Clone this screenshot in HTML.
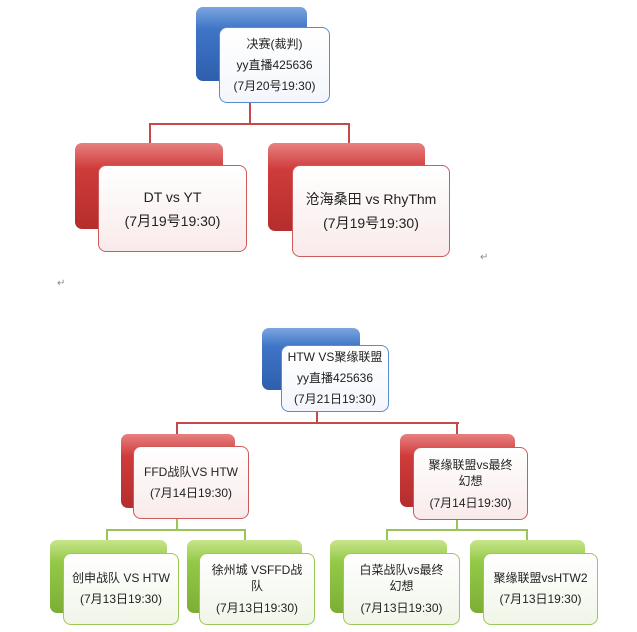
<!DOCTYPE html>
<html><head><meta charset="utf-8"><style>
body{margin:0;width:637px;height:632px;background:#fff;position:relative;overflow:hidden;font-family:"Liberation Sans","Noto Sans CJK SC",sans-serif;color:#222}
.b{position:absolute;border-radius:7px}
.blue{background:linear-gradient(#7aa6e0,#3f74c6 30%,#2e5fae);}
.red{background:linear-gradient(#e88080,#cf3b3b 30%,#b52d2d);}
.green{background:linear-gradient(#c7e58a,#94c947 30%,#7cae35);}
.w{position:absolute;border-radius:8px;background:rgba(255,255,255,0.93);display:flex;flex-direction:column;justify-content:center;align-items:center;text-align:center;font-size:12px;line-height:21px;box-sizing:border-box}
.wb{border:1px solid #5a8bd0;background:linear-gradient(#fff,#f3f6fb)}
.wr{border:1px solid #cf5a5a;background:linear-gradient(#fff,#f9eaea)}
.wg{border:1px solid #9cc85a;background:linear-gradient(#fff,#f0f5e8)}
.l{position:absolute}
.lr{background:#c24a4a}.lg{background:#99c45a}
</style></head><body>
<!-- tree 1 -->
<div class="l lr" style="left:249px;top:100px;width:2px;height:25px"></div>
<div class="l lr" style="left:149px;top:123px;width:201px;height:2px"></div>
<div class="l lr" style="left:149px;top:123px;width:2px;height:22px"></div>
<div class="l lr" style="left:348px;top:123px;width:2px;height:22px"></div>
<div class="b blue" style="left:196px;top:7px;width:111px;height:74px"></div>
<div class="w wb" style="left:219px;top:27px;width:111px;height:76px"><div>决赛(裁判)</div><div>yy直播425636</div><div>(7月20号19:30)</div></div>
<div class="b red" style="left:75px;top:143px;width:148px;height:86px"></div>
<div class="w wr" style="left:98px;top:165px;width:149px;height:87px;font-size:14px;line-height:24px"><div>DT vs YT</div><div>(7月19号19:30)</div></div>
<div class="b red" style="left:268px;top:143px;width:157px;height:88px"></div>
<div class="w wr" style="left:292px;top:165px;width:158px;height:92px;font-size:14px;line-height:24px"><div>沧海桑田 vs RhyThm</div><div>(7月19号19:30)</div></div>
<div class="l" style="left:480px;top:252px;font-size:10px;color:#888">↵</div>
<div class="l" style="left:57px;top:278px;font-size:10px;color:#888">↵</div>
<!-- tree 2 -->
<div class="l lr" style="left:316px;top:410px;width:2px;height:14px"></div>
<div class="l lr" style="left:176px;top:422px;width:283px;height:2px"></div>
<div class="l lr" style="left:176px;top:422px;width:2px;height:14px"></div>
<div class="l lr" style="left:456px;top:422px;width:2px;height:14px"></div>
<div class="l lg" style="left:176px;top:518px;width:2px;height:13px"></div>
<div class="l lg" style="left:106px;top:529px;width:140px;height:2px"></div>
<div class="l lg" style="left:106px;top:529px;width:2px;height:12px"></div>
<div class="l lg" style="left:244px;top:529px;width:2px;height:12px"></div>
<div class="l lg" style="left:456px;top:518px;width:2px;height:13px"></div>
<div class="l lg" style="left:386px;top:529px;width:142px;height:2px"></div>
<div class="l lg" style="left:386px;top:529px;width:2px;height:12px"></div>
<div class="l lg" style="left:526px;top:529px;width:2px;height:12px"></div>
<div class="b blue" style="left:262px;top:328px;width:98px;height:62px"></div>
<div class="w wb" style="left:281px;top:345px;width:108px;height:67px"><div>HTW VS聚缘联盟</div><div>yy直播425636</div><div>(7月21日19:30)</div></div>
<div class="b red" style="left:121px;top:434px;width:114px;height:74px"></div>
<div class="w wr" style="left:133px;top:446px;width:116px;height:73px"><div>FFD战队VS  HTW</div><div>(7月14日19:30)</div></div>
<div class="b red" style="left:400px;top:434px;width:115px;height:73px"></div>
<div class="w wr" style="left:413px;top:447px;width:115px;height:73px;line-height:16px"><div>聚缘联盟vs最终<br>幻想</div><div style="margin-top:6px">(7月14日19:30)</div></div>
<div class="b green" style="left:50px;top:540px;width:117px;height:73px"></div>
<div class="w wg" style="left:63px;top:553px;width:116px;height:72px"><div>创申战队  VS HTW</div><div>(7月13日19:30)</div></div>
<div class="b green" style="left:187px;top:540px;width:115px;height:73px"></div>
<div class="w wg" style="left:199px;top:553px;width:116px;height:72px;line-height:16px"><div>徐州城 VSFFD战<br>队</div><div style="margin-top:6px">(7月13日19:30)</div></div>
<div class="b green" style="left:330px;top:540px;width:117px;height:73px"></div>
<div class="w wg" style="left:343px;top:553px;width:117px;height:72px;line-height:16px"><div>白菜战队vs最终<br>幻想</div><div style="margin-top:6px">(7月13日19:30)</div></div>
<div class="b green" style="left:470px;top:540px;width:115px;height:73px"></div>
<div class="w wg" style="left:483px;top:553px;width:115px;height:72px"><div>聚缘联盟vsHTW2</div><div>(7月13日19:30)</div></div>
</body></html>
